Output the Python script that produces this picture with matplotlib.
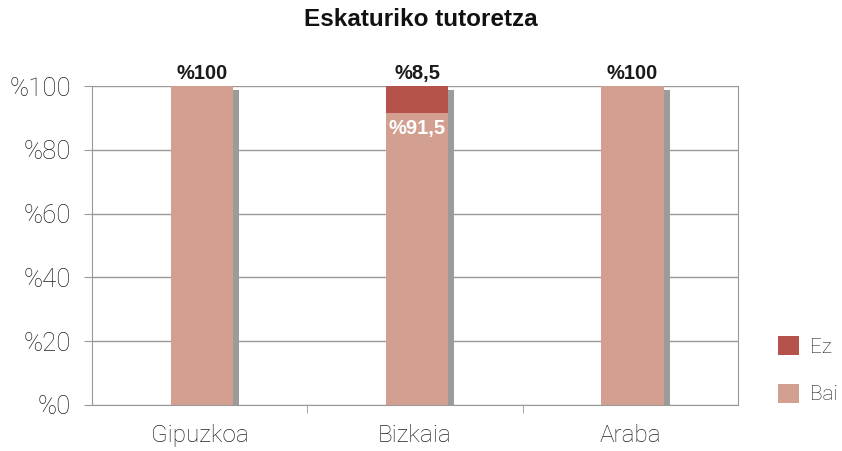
import matplotlib.pyplot as plt
import numpy as np

# data
regions = ['Gipuzkoa', 'Bizkaia', 'Araba']
bai = [100, 91.5, 100]
ez = [0, 8.5, 0]
top_labels = ['%100', '%8,5', '%100']
inner_labels = ['', '%91,5', '']
yticks = [0, 20, 40, 60, 80, 100]

c_bai = '#D39F91'
c_ez = '#B5524B'
c_shadow = '#9B9B9B'
c_text = '#222222'

plt.rcParams['font.family'] = ['Liberation Sans', 'DejaVu Sans']
light = dict(family=['Roboto', 'Liberation Sans'], weight='light')

fig = plt.figure(figsize=(8.42, 4.51), dpi=100)
ax = fig.add_axes([92 / 842, 1 - 405 / 451, (738 - 92) / 842, (405 - 86) / 451])

x = np.arange(len(regions))
w = 0.29
px = 1 / 215  # one pixel in data units along x
py = 100 / 319
off = 0.01

# shadow behind each bar
totals = np.array(bai) + np.array(ez)
ax.bar(x + off + 6 * px, totals - 4 * py, w, color=c_shadow, zorder=2)
ax.bar(x + off, bai, w, color=c_bai, zorder=3, label='Bai')
ax.bar(x + off, ez, w, bottom=bai, color=c_ez, zorder=3, label='Ez')

for i in range(len(regions)):
    ax.text(x[i] + off, totals[i] + 1, top_labels[i], ha='center', va='bottom',
            fontsize=14.5, fontweight='bold', color='#1a1a1a')
    if inner_labels[i]:
        ax.text(x[i] + off, bai[i] - 2, inner_labels[i], ha='center', va='top',
                fontsize=14.5, fontweight='bold', color='white', zorder=4)

ax.set_xlim(-0.5, 2.5)
ax.set_ylim(0, 100)
ax.set_yticks(yticks)
ax.set_yticklabels(['%' + str(v) for v in yticks], fontsize=18.5, color=c_text, **light)
ax.set_xticks(x)
ax.set_xticklabels(regions, fontsize=17.5, color=c_text, **light)
ax.set_xticks([0.5, 1.5], minor=True)
ax.tick_params(axis='x', which='major', length=0, pad=14)
ax.tick_params(axis='x', which='minor', length=6, color='#999999', direction='out')
ax.tick_params(axis='y', length=6, color='#999999', pad=9)

ax.grid(axis='y', color='#999999', linewidth=1, zorder=0)
for s in ['left', 'bottom', 'right']:
    ax.spines[s].set_color('#999999')
ax.spines['top'].set_visible(False)

fig.text(0.5, 1 - 19 / 451, 'Eskaturiko tutoretza', ha='center', va='center',
         fontsize=17.5, fontweight='bold', color='#111111')

handles, labels = ax.get_legend_handles_labels()
leg = fig.legend(handles[::-1], labels[::-1], loc='upper left',
                 bbox_to_anchor=(770 / 842, 1 - 328 / 451), borderaxespad=0,
                 frameon=False, handlelength=1.0, handleheight=1.0,
                 labelspacing=1.3, handletextpad=0.5,
                 prop=dict(family=['Roboto', 'Liberation Sans'], weight='light', size=15))
for t in leg.get_texts():
    t.set_color(c_text)

fig.savefig('out.png', dpi=100)
